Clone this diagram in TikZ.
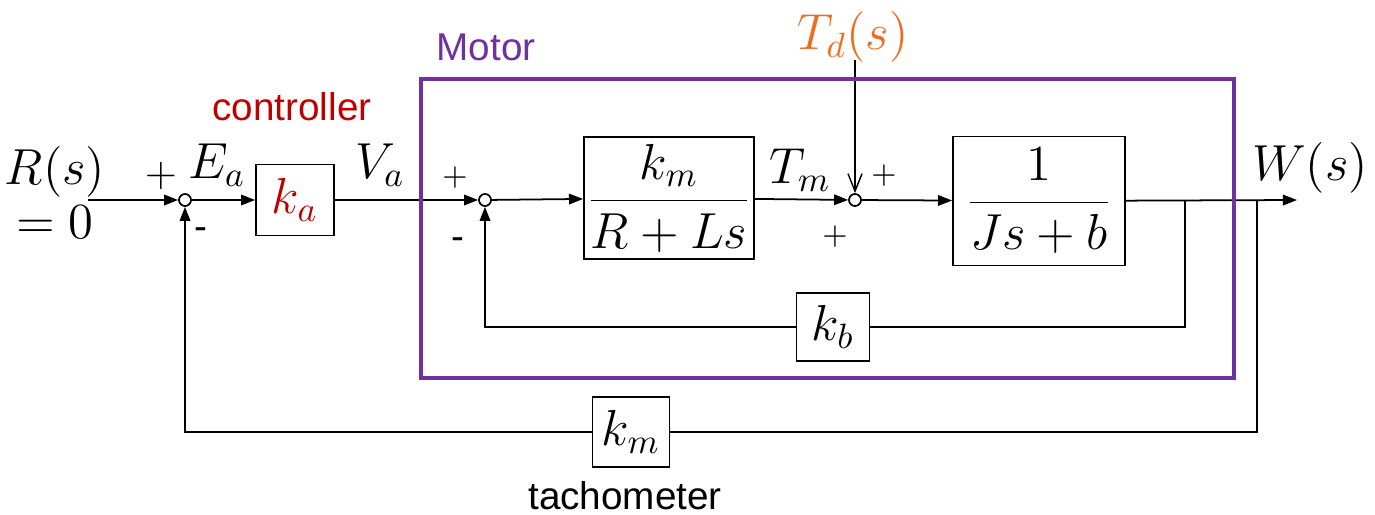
\documentclass[tikz,border=0pt]{standalone}
\usepackage[no-math]{fontspec}
\setmainfont{Liberation Sans}
\usepackage{tikz}
\usetikzlibrary{arrows.meta,positioning,calc}
\usepackage{xcolor}
\definecolor{motorline}{HTML}{7030A0}
\definecolor{ctrlred}{HTML}{C00000}
\definecolor{disturb}{HTML}{F26B1D}

\begin{document}
\begin{tikzpicture}[x=0.01cm, y=-0.01cm,
  block/.style={rectangle, draw, line width=0.5pt, inner sep=0pt,
                font=\fontsize{14}{16}\selectfont},
  sumpt/.style={circle, draw, line width=0.5pt, fill=white,
                inner sep=0pt, minimum size=0.12cm},
  sig/.style={line width=0.5pt, -{Triangle[length=4pt,width=3pt]}},
  wire/.style={line width=0.5pt},
  lbl/.style={font=\fontsize{14}{16}\selectfont, inner sep=0pt},
  sgn/.style={font=\fontsize{9.5}{11}\selectfont, inner sep=0pt},
  txt/.style={font=\fontsize{11}{13}\selectfont, inner sep=0pt},
]
  \useasboundingbox (0,0) rectangle (1375,515);

  \node[sumpt] (s1) at (185,200) {};
  \node[block, minimum width=0.78cm, minimum height=0.71cm] (ka) at (295,200) {$\color{ctrlred}k_a$};
  \node[sumpt] (s2) at (485,200) {};
  \node[block, minimum width=1.70cm, minimum height=1.22cm] (elec) at (669,198) {$\displaystyle\frac{k_m}{R+Ls}$};
  \node[sumpt] (s3) at (855,200) {};
  \node[block, minimum width=1.72cm, minimum height=1.29cm] (mech) at (1039,201) {$\displaystyle\frac{1}{Js+b}$};
  \node[block, minimum width=0.73cm, minimum height=0.68cm] (kb) at (833,327) {$k_b$};
  \node[block, minimum width=0.77cm, minimum height=0.70cm] (tacho) at (631,432) {$k_m$};

  \coordinate (rin) at (88,200);
  \coordinate (wout) at (1297,200);
  \coordinate (bk) at (1185,200);
  \coordinate (bt) at (1257,200);
  \coordinate (tdin) at (855,60);

  \draw[sig] (rin) -- (s1);
  \draw[sig] (s1) -- (ka);
  \draw[sig] (ka) -- (s2);
  \draw[sig] (s2) -- (elec);
  \draw[sig] (elec) -- (s3);
  \draw[sig] (s3) -- (mech);
  \draw[sig] (mech) -- (wout);
  \draw[wire] (bk) |- (kb);
  \draw[sig] (kb) -| (s2);
  \draw[wire] (bt) |- (tacho);
  \draw[sig] (tacho) -| (s1);
  \draw[line width=0.4pt, -{Straight Barb[length=5pt,width=4pt]}] (tdin) -- (s3);

  \node[draw=motorline, line width=1.2pt, minimum width=8.13cm, minimum height=2.99cm] (motor) at (827.5,228.5) {};
  \node[txt, text=motorline] (motorlbl) at (486,47) {Motor};
  \node[txt, text=ctrlred] (ctrl) at (292,107) {controller};
  \node[txt] (tachlbl) at (625,496) {tachometer};

  \node[lbl] (rs) at (55,172) {$R(s)$};
  \node[lbl] (rzero) at (55,222) {$=0$};
  \node[font=\fontsize{12}{14}\selectfont, inner sep=0pt] (p1) at (161,176) {$+$};
  \node[txt] (m1) at (201,234) {-};
  \node[lbl] (ea) at (217,165) {$E_a$};
  \node[lbl] (va) at (380,165) {$V_a$};
  \node[sgn] (p2) at (455,178) {$+$};
  \node[txt] (m2) at (458,244) {-};
  \node[lbl] (tm) at (800,170) {$T_m$};
  \node[sgn] (p3) at (884,176) {$+$};
  \node[sgn] (p4) at (835,237) {$+$};
  \node[lbl, text=disturb] (td) at (853,37) {$T_d(s)$};
  \node[lbl] (ws) at (1310,168) {$W(s)$};
\end{tikzpicture}
\end{document}
